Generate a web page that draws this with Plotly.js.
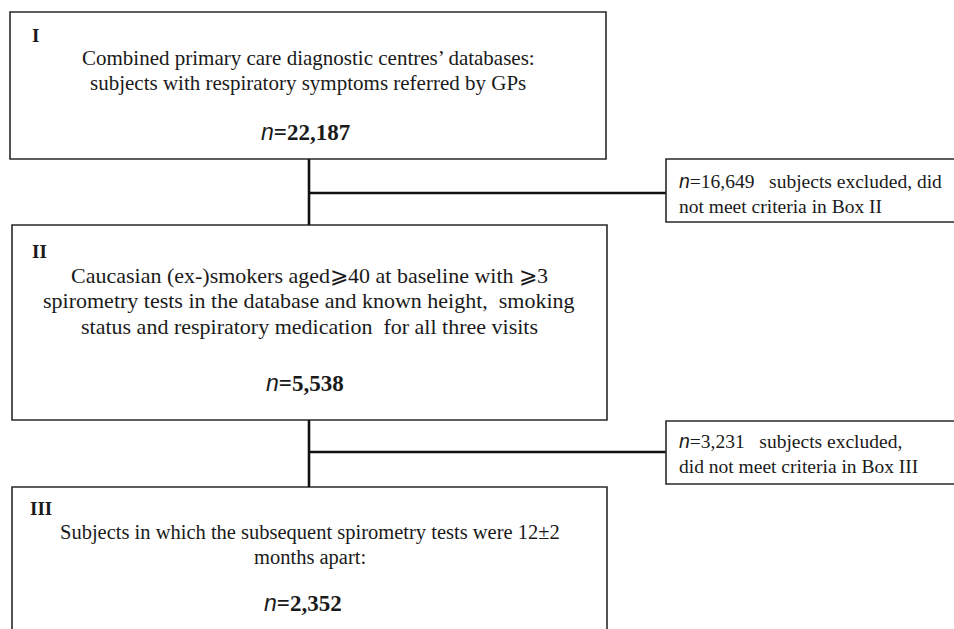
<!DOCTYPE html>
<html>
<head>
<meta charset="utf-8">
<script src="https://cdn.plot.ly/plotly-3.0.1.min.js"></script>
<style>html,body{margin:0;padding:0;background:#fff;}</style>
</head>
<body>
<div id="chart" style="width:954px;height:629px;"></div>
<script>
// ---- data ----
const boxLabels = ['I', 'II', 'III'];
const boxTexts = [
  ['Combined primary care diagnostic centres\u2019 databases:',
   'subjects with respiratory symptoms referred by GPs'],
  ['Caucasian (ex-)smokers aged\u2a7e40 at baseline with \u2a7e3',
   'spirometry tests in the database and known height,  smoking',
   'status and respiratory medication  for all three visits'],
  ['Subjects in which the subsequent spirometry tests were 12\u00b12',
   'months apart:']
];
const boxCounts = [22187, 5538, 2352];
const excludedCounts = [16649, 3231];
const excludedTexts = [
  ['subjects excluded, did', 'not meet criteria in Box II'],
  ['subjects excluded,', 'did not meet criteria in Box III']
];

// ---- layout geometry (pixels, y downward) ----
const W = 954, H = 629;
const boxes = [
  {x0: 10, x1: 606, y0: 12, y1: 159, lab: [30, 35], cx: 308, lineYs: [58, 83], fs: 21, n: [305, 132]},
  {x0: 12, x1: 607, y0: 225, y1: 420, lab: [30, 251], cx: 309, lineYs: [275, 300, 326], fs: 22, n: [305, 383]},
  {x0: 12, x1: 607, y0: 487, y1: 660, lab: [28, 508], cx: 310, lineYs: [532, 557], fs: 20.5, n: [303, 603]}
];
const exBoxes = [
  {x0: 666, x1: 970, y0: 159, y1: 222, lineY: 193, txt: [677, 193]},
  {x0: 666, x1: 970, y0: 421, y1: 484, lineY: 452, txt: [677, 453]}
];
const stemX = 309;

const fmt = v => v.toLocaleString('en-US');
const serif = 'Liberation Serif, Times New Roman, serif';
const ital = '<span style="font-family:Liberation Sans, Arial, sans-serif;font-style:italic;font-weight:normal">n</span>';
const txtColor = '#1a1a1a';

const shapes = [];
const annotations = [];

boxes.forEach((b, i) => {
  shapes.push({type: 'rect', xref: 'x', yref: 'y', x0: b.x0, x1: b.x1, y0: b.y0, y1: b.y1,
    line: {color: '#2a2a2a', width: 1.6}, fillcolor: 'rgba(0,0,0,0)'});
  annotations.push({x: b.lab[0], y: b.lab[1], xref: 'x', yref: 'y', xanchor: 'left', yanchor: 'middle',
    text: '<b>' + boxLabels[i] + '</b>', showarrow: false, font: {family: serif, size: 19, color: txtColor}});
  boxTexts[i].forEach((line, k) => {
    annotations.push({x: b.cx, y: b.lineYs[k], xref: 'x', yref: 'y', xanchor: 'center', yanchor: 'middle',
      align: 'center', text: line, showarrow: false, font: {family: serif, size: b.fs, color: txtColor}});
  });
  annotations.push({x: b.n[0], y: b.n[1], xref: 'x', yref: 'y', xanchor: 'center', yanchor: 'middle',
    text: ital + '<b>=' + fmt(boxCounts[i]) + '</b>', showarrow: false, font: {family: serif, size: 23, color: txtColor}});
});

exBoxes.forEach((e, i) => {
  const top = boxes[i], bottom = boxes[i + 1];
  shapes.push({type: 'line', xref: 'x', yref: 'y', x0: stemX, x1: stemX, y0: top.y1, y1: bottom.y0,
    line: {color: '#111', width: 2.6}});
  shapes.push({type: 'line', xref: 'x', yref: 'y', x0: stemX, x1: e.x0, y0: e.lineY, y1: e.lineY,
    line: {color: '#111', width: 2.6}});
  shapes.push({type: 'rect', xref: 'x', yref: 'y', x0: e.x0, x1: e.x1, y0: e.y0, y1: e.y1,
    line: {color: '#2a2a2a', width: 1.6}, fillcolor: 'rgba(0,0,0,0)'});
  const t = ital + '=' + fmt(excludedCounts[i]) + '   ' + excludedTexts[i][0] + '<br>' + excludedTexts[i][1];
  annotations.push({x: e.txt[0], y: e.txt[1], xref: 'x', yref: 'y', xanchor: 'left', yanchor: 'middle',
    align: 'left', text: t, showarrow: false, font: {family: serif, size: 19.5, color: txtColor}});
});

const layout = {
  width: W, height: H,
  margin: {l: 0, r: 0, t: 0, b: 0},
  paper_bgcolor: '#fff', plot_bgcolor: '#fff',
  xaxis: {range: [0, W], visible: false, fixedrange: true},
  yaxis: {range: [H, 0], visible: false, fixedrange: true},
  showlegend: false,
  shapes: shapes,
  annotations: annotations
};

Plotly.newPlot('chart', [], layout, {displayModeBar: false, staticPlot: true});
</script>
</body>
</html>
